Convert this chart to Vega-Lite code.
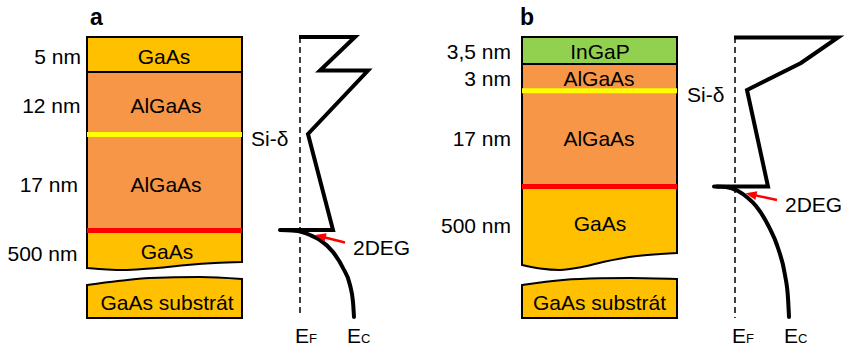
{
  "$schema": "https://vega.github.io/schema/vega-lite/v6.json",
  "width": 845,
  "height": 348,
  "autosize": {"type": "none"},
  "padding": 0,
  "background": "white",
  "config": {"view": {"stroke": null}, "text": {"font": "Liberation Sans"}},
  "datasets": {
    "layers": [
      {"x": 87, "x2": 242, "y": 37, "y2": 72, "m": "GaAs"},
      {"x": 87, "x2": 242, "y": 72, "y2": 231, "m": "AlGaAs"},
      {"x": 522, "x2": 677, "y": 37, "y2": 64, "m": "InGaP"},
      {"x": 522, "x2": 677, "y": 64, "y2": 187, "m": "AlGaAs"}
    ],
    "wafer": [
      {"part": "a1", "m": "GaAs", "x": 87, "y": 268, "y2": 231},
      {"part": "a1", "m": "GaAs", "x": 107, "y": 269.5, "y2": 231},
      {"part": "a1", "m": "GaAs", "x": 127, "y": 270, "y2": 231},
      {"part": "a1", "m": "GaAs", "x": 157, "y": 268, "y2": 231},
      {"part": "a1", "m": "GaAs", "x": 187, "y": 265, "y2": 231},
      {"part": "a1", "m": "GaAs", "x": 215, "y": 263, "y2": 231},
      {"part": "a1", "m": "GaAs", "x": 242, "y": 262, "y2": 231},
      {"part": "a2", "m": "GaAs", "x": 87, "y": 285, "y2": 318},
      {"part": "a2", "m": "GaAs", "x": 118, "y": 281, "y2": 318},
      {"part": "a2", "m": "GaAs", "x": 150, "y": 278, "y2": 318},
      {"part": "a2", "m": "GaAs", "x": 200, "y": 277, "y2": 318},
      {"part": "a2", "m": "GaAs", "x": 242, "y": 279, "y2": 318},
      {"part": "b1", "m": "GaAs", "x": 522, "y": 265, "y2": 187},
      {"part": "b1", "m": "GaAs", "x": 540, "y": 268.5, "y2": 187},
      {"part": "b1", "m": "GaAs", "x": 560, "y": 270, "y2": 187},
      {"part": "b1", "m": "GaAs", "x": 582, "y": 267, "y2": 187},
      {"part": "b1", "m": "GaAs", "x": 603, "y": 262, "y2": 187},
      {"part": "b1", "m": "GaAs", "x": 637, "y": 256, "y2": 187},
      {"part": "b1", "m": "GaAs", "x": 677, "y": 253, "y2": 187},
      {"part": "b2", "m": "GaAs", "x": 522, "y": 285, "y2": 318},
      {"part": "b2", "m": "GaAs", "x": 563, "y": 280, "y2": 318},
      {"part": "b2", "m": "GaAs", "x": 600, "y": 278.3, "y2": 318},
      {"part": "b2", "m": "GaAs", "x": 630, "y": 278, "y2": 318},
      {"part": "b2", "m": "GaAs", "x": 677, "y": 279, "y2": 318}
    ],
    "stripes": [
      {"x": 87, "x2": 242, "y": 134.5, "kind": "Si"},
      {"x": 87, "x2": 242, "y": 230.4, "kind": "2DEG"},
      {"x": 522, "x2": 677, "y": 90.8, "kind": "Si"},
      {"x": 522, "x2": 677, "y": 186.4, "kind": "2DEG"}
    ],
    "fermi": [
      {"x": 300, "y": 37, "y2": 317},
      {"x": 735, "y": 37, "y2": 318}
    ],
    "band": [
      {"p": "a", "o": 1, "x": 299, "y": 37},
      {"p": "a", "o": 2, "x": 355, "y": 37},
      {"p": "a", "o": 3, "x": 320, "y": 70.5},
      {"p": "a", "o": 4, "x": 368, "y": 70.5},
      {"p": "a", "o": 5, "x": 308, "y": 134},
      {"p": "a", "o": 6, "x": 333, "y": 230},
      {"p": "a", "o": 7, "x": 282, "y": 230},
      {"p": "b", "o": 1, "x": 734, "y": 37.5},
      {"p": "b", "o": 2, "x": 838, "y": 37.5},
      {"p": "b", "o": 3, "x": 801, "y": 63},
      {"p": "b", "o": 4, "x": 747, "y": 90},
      {"p": "b", "o": 5, "x": 768, "y": 186.5},
      {"p": "b", "o": 6, "x": 716, "y": 186.5}
    ],
    "curve": [
      {"p": "a", "x": 280, "y": 230},
      {"p": "a", "x": 292, "y": 230.5},
      {"p": "a", "x": 302, "y": 232},
      {"p": "a", "x": 310, "y": 235},
      {"p": "a", "x": 320, "y": 240},
      {"p": "a", "x": 333, "y": 252},
      {"p": "a", "x": 343, "y": 268},
      {"p": "a", "x": 350, "y": 285},
      {"p": "a", "x": 353, "y": 302},
      {"p": "a", "x": 354, "y": 317},
      {"p": "b", "x": 714, "y": 186.5},
      {"p": "b", "x": 726, "y": 187},
      {"p": "b", "x": 738, "y": 191},
      {"p": "b", "x": 748, "y": 198},
      {"p": "b", "x": 756, "y": 206},
      {"p": "b", "x": 768, "y": 225},
      {"p": "b", "x": 778, "y": 248},
      {"p": "b", "x": 785, "y": 275},
      {"p": "b", "x": 788, "y": 298},
      {"p": "b", "x": 789, "y": 317}
    ],
    "shafts": [
      {"x": 345, "y": 242.5, "x2": 322, "y2": 236.8},
      {"x": 777, "y": 200, "x2": 753, "y2": 194.9}
    ],
    "heads": [
      {"x": 320.3, "y": 236.3},
      {"x": 751, "y": 194.4}
    ],
    "thick": [
      {"x": 81, "y": 64, "t": "5 nm"},
      {"x": 80.5, "y": 113, "t": "12 nm"},
      {"x": 78, "y": 192, "t": "17 nm"},
      {"x": 77.5, "y": 261, "t": "500 nm"},
      {"x": 511, "y": 59, "t": "3,5 nm"},
      {"x": 511, "y": 86, "t": "3 nm"},
      {"x": 511, "y": 146, "t": "17 nm"},
      {"x": 511, "y": 233, "t": "500 nm"}
    ],
    "names": [
      {"x": 164, "y": 64, "t": "GaAs"},
      {"x": 166, "y": 113, "t": "AlGaAs"},
      {"x": 166, "y": 192, "t": "AlGaAs"},
      {"x": 167, "y": 259, "t": "GaAs"},
      {"x": 167, "y": 310, "t": "GaAs substrát"},
      {"x": 600, "y": 59, "t": "InGaP"},
      {"x": 599, "y": 86, "t": "AlGaAs"},
      {"x": 599, "y": 146, "t": "AlGaAs"},
      {"x": 600, "y": 231, "t": "GaAs"},
      {"x": 599.5, "y": 310, "t": "GaAs substrát"}
    ],
    "side": [
      {"x": 251, "y": 146, "t": "Si-δ"},
      {"x": 353, "y": 255, "t": "2DEG"},
      {"x": 295, "y": 343, "t": "E"},
      {"x": 347, "y": 343, "t": "E"},
      {"x": 687, "y": 102, "t": "Si-δ"},
      {"x": 785, "y": 212, "t": "2DEG"},
      {"x": 732, "y": 343, "t": "E"},
      {"x": 784, "y": 343, "t": "E"}
    ],
    "subs": [
      {"x": 309, "y": 343, "t": "F"},
      {"x": 361, "y": 343, "t": "C"},
      {"x": 746, "y": 343, "t": "F"},
      {"x": 798, "y": 343, "t": "C"}
    ],
    "letters": [
      {"x": 90, "y": 25, "t": "a"},
      {"x": 520, "y": 25, "t": "b"}
    ]
  },
  "layer": [
    {
      "data": {"name": "layers"},
      "mark": {"type": "rect", "stroke": "black", "strokeWidth": 2},
      "encoding": {
        "x": {"field": "x", "type": "quantitative", "scale": {"domain": [0, 845], "nice": false, "zero": false}, "axis": null},
        "x2": {"field": "x2"},
        "y": {"field": "y", "type": "quantitative", "scale": {"domain": [0, 348], "nice": false, "zero": false, "reverse": true}, "axis": null},
        "y2": {"field": "y2"},
        "fill": {"field": "m", "type": "nominal", "scale": {"domain": ["GaAs", "AlGaAs", "InGaP"], "range": ["#FFC000", "#F79646", "#92D050"]}, "legend": null}
      }
    },
    {
      "data": {"name": "wafer"},
      "mark": {"type": "area", "stroke": "black", "strokeWidth": 2, "interpolate": "monotone", "fillOpacity": 1},
      "encoding": {
        "x": {"field": "x", "type": "quantitative", "scale": {"domain": [0, 845], "nice": false, "zero": false}, "axis": null},
        "y": {"field": "y", "type": "quantitative", "scale": {"domain": [0, 348], "nice": false, "zero": false, "reverse": true}, "axis": null},
        "y2": {"field": "y2"},
        "fill": {"field": "m", "type": "nominal", "scale": {"domain": ["GaAs", "AlGaAs", "InGaP"], "range": ["#FFC000", "#F79646", "#92D050"]}, "legend": null},
        "detail": {"field": "part"}
      }
    },
    {
      "data": {"name": "stripes"},
      "mark": {"type": "rule", "strokeWidth": 5},
      "encoding": {
        "x": {"field": "x", "type": "quantitative", "scale": {"domain": [0, 845], "nice": false, "zero": false}, "axis": null},
        "x2": {"field": "x2"},
        "y": {"field": "y", "type": "quantitative", "scale": {"domain": [0, 348], "nice": false, "zero": false, "reverse": true}, "axis": null},
        "color": {"field": "kind", "type": "nominal", "scale": {"domain": ["Si", "2DEG"], "range": ["#FFFF00", "#FF0000"]}, "legend": null}
      }
    },
    {
      "data": {"name": "fermi"},
      "mark": {"type": "rule", "color": "black", "strokeWidth": 1.5, "strokeDash": [6, 4]},
      "encoding": {
        "x": {"field": "x", "type": "quantitative", "scale": {"domain": [0, 845], "nice": false, "zero": false}, "axis": null},
        "y": {"field": "y", "type": "quantitative", "scale": {"domain": [0, 348], "nice": false, "zero": false, "reverse": true}, "axis": null},
        "y2": {"field": "y2"}
      }
    },
    {
      "data": {"name": "band"},
      "mark": {"type": "line", "color": "black", "strokeWidth": 4, "strokeJoin": "miter", "strokeMiterLimit": 10},
      "encoding": {
        "x": {"field": "x", "type": "quantitative", "scale": {"domain": [0, 845], "nice": false, "zero": false}, "axis": null},
        "y": {"field": "y", "type": "quantitative", "scale": {"domain": [0, 348], "nice": false, "zero": false, "reverse": true}, "axis": null},
        "detail": {"field": "p"},
        "order": {"field": "o", "type": "quantitative"}
      }
    },
    {
      "data": {"name": "curve"},
      "mark": {"type": "line", "color": "black", "strokeWidth": 4, "strokeCap": "round", "interpolate": "monotone"},
      "encoding": {
        "x": {"field": "x", "type": "quantitative", "scale": {"domain": [0, 845], "nice": false, "zero": false}, "axis": null},
        "y": {"field": "y", "type": "quantitative", "scale": {"domain": [0, 348], "nice": false, "zero": false, "reverse": true}, "axis": null},
        "detail": {"field": "p"}
      }
    },
    {
      "data": {"name": "shafts"},
      "mark": {"type": "rule", "color": "#FF0000", "strokeWidth": 2.5},
      "encoding": {
        "x": {"field": "x", "type": "quantitative", "scale": {"domain": [0, 845], "nice": false, "zero": false}, "axis": null},
        "x2": {"field": "x2"},
        "y": {"field": "y", "type": "quantitative", "scale": {"domain": [0, 348], "nice": false, "zero": false, "reverse": true}, "axis": null},
        "y2": {"field": "y2"}
      }
    },
    {
      "data": {"name": "heads"},
      "mark": {"type": "point", "shape": "M -1 0 L 1 -0.8 L 1 0.8 Z", "size": 121, "filled": true, "color": "#FF0000", "opacity": 1, "angle": 13},
      "encoding": {
        "x": {"field": "x", "type": "quantitative", "scale": {"domain": [0, 845], "nice": false, "zero": false}, "axis": null},
        "y": {"field": "y", "type": "quantitative", "scale": {"domain": [0, 348], "nice": false, "zero": false, "reverse": true}, "axis": null}
      }
    },
    {
      "data": {"name": "thick"},
      "mark": {"type": "text", "align": "right", "baseline": "alphabetic", "fontSize": 21, "color": "black"},
      "encoding": {
        "x": {"field": "x", "type": "quantitative", "scale": {"domain": [0, 845], "nice": false, "zero": false}, "axis": null},
        "y": {"field": "y", "type": "quantitative", "scale": {"domain": [0, 348], "nice": false, "zero": false, "reverse": true}, "axis": null},
        "text": {"field": "t"}
      }
    },
    {
      "data": {"name": "names"},
      "mark": {"type": "text", "align": "center", "baseline": "alphabetic", "fontSize": 21, "color": "black"},
      "encoding": {
        "x": {"field": "x", "type": "quantitative", "scale": {"domain": [0, 845], "nice": false, "zero": false}, "axis": null},
        "y": {"field": "y", "type": "quantitative", "scale": {"domain": [0, 348], "nice": false, "zero": false, "reverse": true}, "axis": null},
        "text": {"field": "t"}
      }
    },
    {
      "data": {"name": "side"},
      "mark": {"type": "text", "align": "left", "baseline": "alphabetic", "fontSize": 21, "color": "black"},
      "encoding": {
        "x": {"field": "x", "type": "quantitative", "scale": {"domain": [0, 845], "nice": false, "zero": false}, "axis": null},
        "y": {"field": "y", "type": "quantitative", "scale": {"domain": [0, 348], "nice": false, "zero": false, "reverse": true}, "axis": null},
        "text": {"field": "t"}
      }
    },
    {
      "data": {"name": "subs"},
      "mark": {"type": "text", "align": "left", "baseline": "alphabetic", "fontSize": 13, "color": "black"},
      "encoding": {
        "x": {"field": "x", "type": "quantitative", "scale": {"domain": [0, 845], "nice": false, "zero": false}, "axis": null},
        "y": {"field": "y", "type": "quantitative", "scale": {"domain": [0, 348], "nice": false, "zero": false, "reverse": true}, "axis": null},
        "text": {"field": "t"}
      }
    },
    {
      "data": {"name": "letters"},
      "mark": {"type": "text", "align": "left", "baseline": "alphabetic", "fontSize": 23, "fontWeight": "bold", "color": "black"},
      "encoding": {
        "x": {"field": "x", "type": "quantitative", "scale": {"domain": [0, 845], "nice": false, "zero": false}, "axis": null},
        "y": {"field": "y", "type": "quantitative", "scale": {"domain": [0, 348], "nice": false, "zero": false, "reverse": true}, "axis": null},
        "text": {"field": "t"}
      }
    }
  ]
}
